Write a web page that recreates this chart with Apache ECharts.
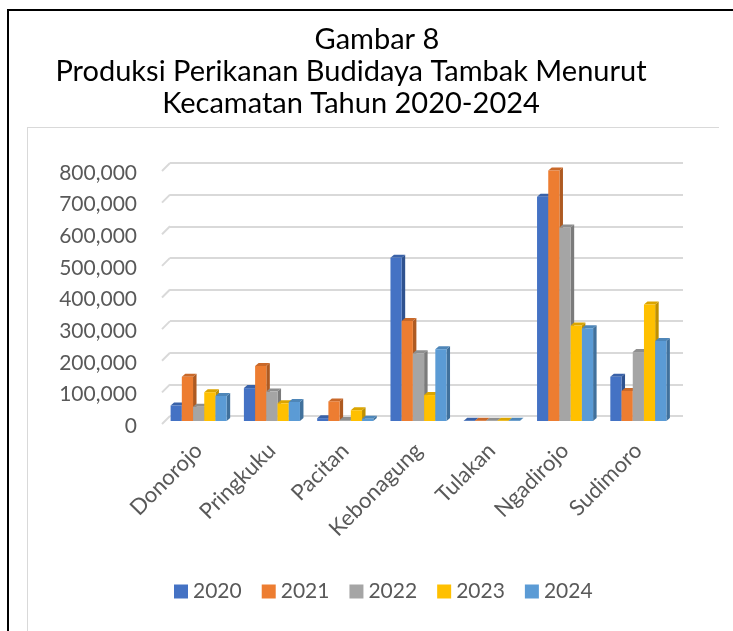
<!DOCTYPE html>
<html>
<head>
<meta charset="utf-8">
<script src="https://cdn.jsdelivr.net/npm/echarts@6/dist/echarts.min.js"></script>
<style>
  html, body { margin: 0; padding: 0; background: #fff; overflow: hidden; width: 733px; height: 631px; }
  #frame { position: absolute; left: 7px; top: 9px; width: 740px; height: 640px; border-left: 2px solid #000; border-top: 2px solid #000; box-sizing: border-box; }
  #area { position: absolute; left: 27px; top: 127px; width: 692px; height: 520px; border-left: 1px solid #d9d9d9; border-top: 1px solid #d9d9d9; box-sizing: border-box; }
  #chart { position: absolute; left: 0; top: 0; width: 733px; height: 631px; }
</style>
</head>
<body>
<div id="frame"></div>
<div id="area"></div>
<div id="chart"></div>
<script>
// data
var categories = ['Donorojo', 'Pringkuku', 'Pacitan', 'Kebonagung', 'Tulakan', 'Ngadirojo', 'Sudimoro'];
var years = ['2020', '2021', '2022', '2023', '2024'];
var s2020 = [49000, 104000, 9000, 516000, 1000, 709000, 140000];
var s2021 = [140000, 174000, 62000, 316000, 1000, 792000, 95000];
var s2022 = [45000, 93000, 3000, 214000, 1000, 612000, 218000];
var s2023 = [91000, 56000, 34000, 82000, 1000, 302000, 368000];
var s2024 = [79000, 60000, 7000, 227000, 1000, 293000, 253000];
var yTicks = [0, 100000, 200000, 300000, 400000, 500000, 600000, 700000, 800000];

var seriesValues = [s2020, s2021, s2022, s2023, s2024];
var faceColors = ['#4472C4', '#ED7D31', '#A5A5A5', '#FFC000', '#5B9BD5'];
var sideColors = ['#2F528F', '#AE5A21', '#7B7B7B', '#BF9000', '#41719C'];
var topColors  = ['#3A62A8', '#C9692A', '#8E8E8E', '#DBA500', '#4E86B8'];

var FONT = 'Lato, "Open Sans", sans-serif';
var DX = 3.5, DY = 3; // fake 3d depth

var myChart = echarts.init(document.getElementById('chart'));

// 3d-looking column, drawn from the axis scale
function barRenderer(s) {
  return function (params, api) {
    var idx = api.value(0);
    var top = api.coord([idx, api.value(1)]);
    var base = api.coord([idx, 0]);
    var band = api.size([1, 0])[0];
    var w = band * 0.153;
    var x0 = top[0] - w * 2.5 + s * w;
    var x1 = x0 + w;
    return {
      type: 'group',
      children: [
        { type: 'polygon', shape: { points: [[x1, top[1]], [x1 + DX, top[1] - DY], [x1 + DX, base[1] - DY], [x1, base[1]]] },
          style: { fill: sideColors[s] } },
        { type: 'polygon', shape: { points: [[x0, top[1]], [x0 + DX, top[1] - DY], [x1 + DX, top[1] - DY], [x1, top[1]]] },
          style: { fill: topColors[s] } },
        { type: 'rect', shape: { x: x0, y: top[1], width: w, height: base[1] - top[1] },
          style: { fill: faceColors[s] } }
      ]
    };
  };
}

var series = [];
// small diagonals at the left end of each gridline
series.push({
  type: 'custom',
  xAxisIndex: 1, yAxisIndex: 1,
  silent: true,
  data: yTicks.map(function (v) { return [0, v]; }),
  renderItem: function (params, api) {
    var p = api.coord([0, api.value(1)]);
    return { type: 'line', shape: { x1: p[0], y1: p[1], x2: p[0] - 8, y2: p[1] + 8 },
      style: { stroke: '#d9d9d9', lineWidth: 2 } };
  }
});
years.forEach(function (y, s) {
  series.push({
    name: y,
    type: 'custom',
    xAxisIndex: 0, yAxisIndex: 0,
    itemStyle: { color: faceColors[s] },
    data: seriesValues[s].map(function (v, i) { return [i, v]; }),
    renderItem: barRenderer(s)
  });
});

var titleStyle = { fontFamily: FONT, fontSize: 29, fontWeight: 'normal', color: '#000', lineHeight: 32 };

var option = {
  animation: false,
  title: [
    { text: 'Gambar 8', left: 372, textAlign: 'center', top: 19, textStyle: titleStyle },
    { text: 'Produksi Perikanan Budidaya Tambak Menurut\nKecamatan Tahun 2020-2024', left: 346, textAlign: 'center', top: 51, textStyle: titleStyle }
  ],
  legend: {
    data: years,
    left: 169,
    top: 576,
    icon: 'rect',
    itemWidth: 14,
    itemHeight: 14,
    itemGap: 20,
    textStyle: { fontFamily: FONT, fontSize: 21, color: '#595959' }
  },
  grid: [
    { left: 162, right: 58, top: 168, bottom: 210 }, // front (bars)
    { left: 170, right: 50, top: 163, bottom: 215 }, // back wall (gridlines)
    { left: 162, right: 58, top: 173, bottom: 205 }  // value labels, at the front edge of the diagonals
  ],
  xAxis: [
    {
      type: 'category', gridIndex: 0, data: categories,
      axisLine: { show: false }, axisTick: { show: false },
      axisLabel: { rotate: 45, margin: 26, interval: 0, fontFamily: FONT, fontSize: 22, color: '#595959' }
    },
    { type: 'value', gridIndex: 1, min: 0, max: 1, show: false },
    { type: 'value', gridIndex: 2, min: 0, max: 1, show: false }
  ],
  yAxis: [
    {
      type: 'value', gridIndex: 0, min: 0, max: 800000, interval: 100000,
      axisLine: { show: false }, axisTick: { show: false }, splitLine: { show: false }, axisLabel: { show: false }
    },
    {
      type: 'value', gridIndex: 1, min: 0, max: 800000, interval: 100000,
      axisLine: { show: false }, axisTick: { show: false }, axisLabel: { show: false },
      splitLine: { lineStyle: { color: '#d9d9d9', width: 2 } }
    },
    {
      type: 'value', gridIndex: 2, min: 0, max: 800000, interval: 100000,
      axisLine: { show: false }, axisTick: { show: false }, splitLine: { show: false },
      axisLabel: {
        margin: 25, fontFamily: FONT, fontSize: 21, color: '#595959',
        formatter: function (v) { return v.toLocaleString('en-US'); }
      }
    }
  ],
  series: series
};

myChart.setOption(option);
</script>
</body>
</html>
